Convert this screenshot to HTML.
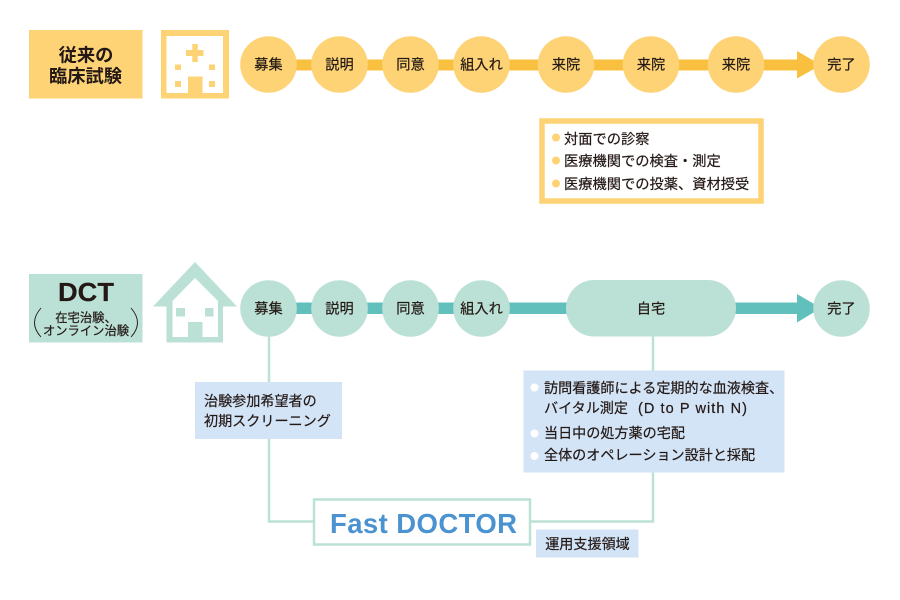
<!DOCTYPE html>
<html lang="ja">
<head>
<meta charset="utf-8">
<style>
html,body{margin:0;padding:0;background:#fff;}
svg{display:block;}
text{font-family:"Liberation Sans","Noto Sans CJK JP",sans-serif;fill:#231815;stroke:#231815;stroke-width:0.2px;}
.c{font-size:14.2px;text-anchor:middle;}
.n{font-size:14.1px;}
.l{font-size:14.25px;}
</style>
</head>
<body>
<svg width="900" height="600" viewBox="0 0 900 600" xmlns="http://www.w3.org/2000/svg">
<rect width="900" height="600" fill="#fff"/>

<!-- Top row -->
<rect x="29" y="30" width="113.500" height="68.500" fill="#fdd375"/>
<text x="86" y="61.500" text-anchor="middle" font-size="18.300" font-weight="700" style="stroke:none">従来の</text>
<text x="85.500" y="82.500" text-anchor="middle" font-size="18.300" font-weight="700" style="stroke:none">臨床試験</text>

<rect x="161" y="30" width="68" height="68.500" fill="#fdd375"/>
<rect x="166.500" y="36" width="56.500" height="57" fill="#fff"/>
<rect x="186" y="50" width="17.500" height="6" fill="#fdd375"/>
<rect x="192.300" y="44" width="5.500" height="18" fill="#fdd375"/>
<rect x="175" y="64.500" width="6" height="5.500" fill="#fdd375"/>
<rect x="209" y="64.500" width="6" height="5.500" fill="#fdd375"/>
<rect x="175" y="81" width="6" height="6" fill="#fdd375"/>
<rect x="209" y="81" width="6" height="6" fill="#fdd375"/>
<rect x="188" y="76.500" width="14.500" height="16.500" fill="#fdd375"/>

<rect x="269" y="59.500" width="532" height="11" fill="#f9c03f"/>
<polygon points="797,51 821,65 797,78.500" fill="#f9c03f"/>
<g fill="#fdd375">
<circle cx="268.500" cy="64.500" r="28.300"/>
<circle cx="339.500" cy="64.500" r="28.300"/>
<circle cx="410.500" cy="64.500" r="28.300"/>
<circle cx="481.500" cy="64.500" r="28.300"/>
<circle cx="566" cy="64.500" r="28.300"/>
<circle cx="651" cy="64.500" r="28.300"/>
<circle cx="736" cy="64.500" r="28.300"/>
<circle cx="841.500" cy="64.500" r="28.300"/>
</g>
<text class="c" x="268.500" y="69.500">募集</text>
<text class="c" x="339.500" y="69.500">説明</text>
<text class="c" x="410.500" y="69.500">同意</text>
<text class="c" x="481.500" y="69.500">組入れ</text>
<text class="c" x="566" y="69.500">来院</text>
<text class="c" x="651" y="69.500">来院</text>
<text class="c" x="736" y="69.500">来院</text>
<text class="c" x="841.500" y="69.500">完了</text>

<!-- Top list -->
<rect x="542" y="121" width="219" height="80" fill="#fff" stroke="#fdd375" stroke-width="5.500"/>
<g fill="#fdd375">
<circle cx="556" cy="137.500" r="4"/>
<circle cx="556" cy="160.500" r="4"/>
<circle cx="556" cy="183.500" r="4"/>
</g>
<text x="564" y="144" class="l">対面での診察</text>
<text x="564" y="166" class="l">医療機関での検査・測定</text>
<text x="564" y="189" class="l">医療機関での投薬、資材授受</text>

<!-- Bottom row -->
<rect x="29" y="274" width="113.500" height="68.500" fill="#bbe1d6"/>
<text x="58" y="301" font-size="25.500" font-weight="700" textLength="56" lengthAdjust="spacingAndGlyphs" style="font-family:'Liberation Sans',sans-serif">DCT</text>
<text x="86" y="322" text-anchor="middle" font-size="12.300">在宅治験、</text>
<text x="86" y="335" text-anchor="middle" font-size="12.300">オンライン治験</text>
<path d="M41 308 Q28 323 41 337" fill="none" stroke="#231815" stroke-width="0.900"/>
<path d="M131 308 Q144 323 131 337" fill="none" stroke="#231815" stroke-width="0.900"/>

<path fill-rule="evenodd" fill="#bbe1d6" d="M195 262 L237 306.500 L223 306.500 L223 342.500 L166.500 342.500 L166.500 306.500 L153 306.500 Z M195 278 L172.500 301 L172.500 337 L218 337 L218 301 Z"/>
<rect x="176" y="308" width="9" height="8.500" fill="#bbe1d6"/>
<rect x="205" y="308" width="8.500" height="8.500" fill="#bbe1d6"/>
<rect x="188" y="322" width="14.500" height="15" fill="#bbe1d6"/>

<rect x="269" y="302.500" width="532" height="11.500" fill="#62c0bc"/>
<polygon points="797,294 821,308 797,322.500" fill="#62c0bc"/>
<g fill="#bbe1d6">
<circle cx="268.500" cy="308.500" r="28.300"/>
<circle cx="339.500" cy="308.500" r="28.300"/>
<circle cx="410.500" cy="308.500" r="28.300"/>
<circle cx="481.500" cy="308.500" r="28.300"/>
<rect x="566" y="280" width="170" height="56.500" rx="28.250"/>
<circle cx="841.500" cy="308.500" r="28.300"/>
</g>
<text class="c" x="268.500" y="313.500">募集</text>
<text class="c" x="339.500" y="313.500">説明</text>
<text class="c" x="410.500" y="313.500">同意</text>
<text class="c" x="481.500" y="313.500">組入れ</text>
<text class="c" x="651" y="313.500">自宅</text>
<text class="c" x="841.500" y="313.500">完了</text>

<!-- Connectors -->
<path d="M269 336 L269 521.500 L653 521.500 L653 336" fill="none" stroke="#bbe1d6" stroke-width="2.500"/>

<!-- Left note -->
<rect x="195" y="382" width="147" height="57" fill="#d3e4f7"/>
<text x="204" y="406" class="n">治験参加希望者の</text>
<text x="204" y="426" class="n">初期スクリーニング</text>

<!-- Right note -->
<rect x="523.500" y="370.500" width="261" height="102" fill="#d3e4f7"/>
<g fill="#fff">
<circle cx="534.500" cy="387.500" r="4"/>
<circle cx="534.500" cy="433.500" r="4"/>
<circle cx="534.500" cy="456" r="4"/>
</g>
<text x="544" y="393" class="n">訪問看護師による定期的な血液検査、</text>
<text x="544" y="413" class="n">バイタル測定</text>
<text x="638" y="413" font-size="14.500" textLength="109" lengthAdjust="spacing">(D to P with N)</text>
<text x="544" y="438" class="n">当日中の処方薬の宅配</text>
<text x="544" y="460" class="n">全体のオペレーション設計と採配</text>

<!-- Fast DOCTOR -->
<rect x="314" y="499.500" width="216" height="45" fill="#fff" stroke="#bbe1d6" stroke-width="2.500"/>
<text x="330" y="533" font-size="27.500" font-weight="700" textLength="187" lengthAdjust="spacing" style="font-family:'Liberation Sans',sans-serif;fill:#4a93d0;stroke:none">Fast DOCTOR</text>

<rect x="536" y="529.500" width="102.500" height="28" fill="#d3e4f7"/>
<text x="587.500" y="549" text-anchor="middle" class="n">運用支援領域</text>
</svg>
</body>
</html>
